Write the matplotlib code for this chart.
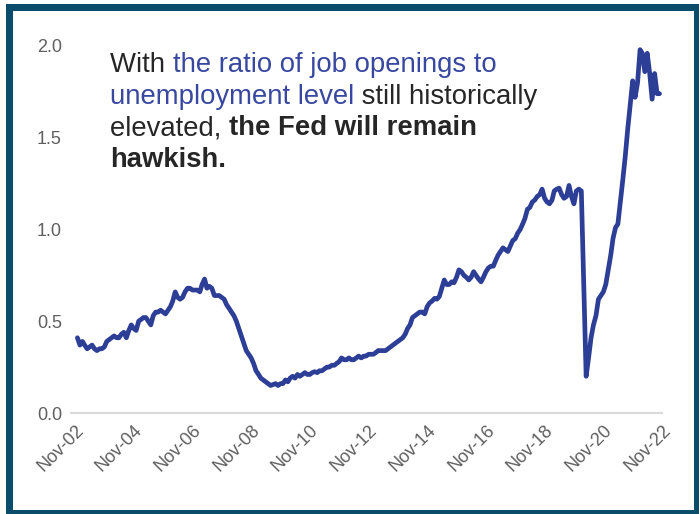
import datetime as dt
import numpy as np
import pandas as pd
import matplotlib
matplotlib.use("Agg")
import matplotlib.pyplot as plt
from matplotlib.patches import Rectangle

plt.rcParams['font.family'] = ['Liberation Sans', 'DejaVu Sans']

# Job openings / unemployment level, monthly, Dec 2002 - Oct 2022
start_month = '2002-12-01'
ratio = [
    0.41,
    0.37, 0.39, 0.37, 0.35, 0.36, 0.37, 0.35, 0.34, 0.35, 0.35, 0.36, 0.39,   # 2003
    0.40, 0.41, 0.42, 0.41, 0.41, 0.43, 0.44, 0.41, 0.45, 0.48, 0.46, 0.45,   # 2004
    0.50, 0.51, 0.52, 0.52, 0.50, 0.48, 0.53, 0.55, 0.55, 0.56, 0.55, 0.54,   # 2005
    0.56, 0.58, 0.61, 0.66, 0.63, 0.62, 0.63, 0.66, 0.68, 0.68, 0.67, 0.67,   # 2006
    0.67, 0.66, 0.70, 0.73, 0.68, 0.69, 0.68, 0.64, 0.64, 0.64, 0.63, 0.62,   # 2007
    0.59, 0.57, 0.55, 0.53, 0.50, 0.46, 0.42, 0.38, 0.34, 0.32, 0.30, 0.27,   # 2008
    0.23, 0.21, 0.19, 0.18, 0.17, 0.16, 0.15, 0.155, 0.16, 0.15, 0.16, 0.16,  # 2009
    0.18, 0.17, 0.19, 0.20, 0.19, 0.21, 0.20, 0.21, 0.22, 0.21, 0.21, 0.22,   # 2010
    0.225, 0.22, 0.23, 0.23, 0.24, 0.25, 0.25, 0.26, 0.26, 0.27, 0.28, 0.30,  # 2011
    0.29, 0.29, 0.30, 0.29, 0.29, 0.30, 0.31, 0.30, 0.31, 0.31, 0.32, 0.32,   # 2012
    0.32, 0.33, 0.34, 0.34, 0.34, 0.34, 0.35, 0.36, 0.37, 0.38, 0.39, 0.40,   # 2013
    0.41, 0.43, 0.46, 0.48, 0.52, 0.53, 0.54, 0.55, 0.55, 0.54, 0.58, 0.60,   # 2014
    0.61, 0.625, 0.62, 0.635, 0.68, 0.725, 0.70, 0.70, 0.715, 0.71, 0.74, 0.78,  # 2015
    0.77, 0.75, 0.74, 0.725, 0.74, 0.77, 0.75, 0.73, 0.715, 0.74, 0.77, 0.79,    # 2016
    0.80, 0.80, 0.83, 0.86, 0.88, 0.90, 0.89, 0.88, 0.91, 0.94, 0.95, 0.98,   # 2017
    1.00, 1.03, 1.06, 1.11, 1.12, 1.15, 1.16, 1.18, 1.19, 1.22, 1.17, 1.15,   # 2018
    1.14, 1.16, 1.21, 1.22, 1.225, 1.19, 1.17, 1.18, 1.24, 1.18, 1.14, 1.21,  # 2019
    1.22, 1.21, 0.72, 0.20, 0.30, 0.41, 0.48, 0.53, 0.62, 0.64, 0.66, 0.70,   # 2020
    0.78, 0.86, 0.95, 1.01, 1.03, 1.15, 1.27, 1.40, 1.55, 1.68, 1.81, 1.72,   # 2021
    1.80, 1.98, 1.96, 1.86, 1.96, 1.85, 1.71, 1.85, 1.74, 1.74,               # 2022
]
dates = pd.date_range(start_month, periods=len(ratio), freq='MS')

tick_years = list(range(2002, 2023, 2))
tick_dates = [dt.datetime(y, 11, 1) for y in tick_years]
tick_labels = ['Nov-%02d' % (y % 100) for y in tick_years]
y_ticks = [0.0, 0.5, 1.0, 1.5, 2.0]

line_color = '#2c3e96'
text_blue = '#3848a0'
text_dark = '#262626'
frame_color = '#0a4d6b'

fig = plt.figure(figsize=(6.99, 5.14), dpi=100)
ax = fig.add_axes([71 / 699, 1 - 413 / 514, (662 - 71) / 699, (413 - 36.8) / 514])

ax.plot(dates, ratio, color=line_color, lw=3.4, solid_joinstyle='round',
        solid_capstyle='round', clip_on=False)

ax.set_xlim(dt.datetime(2002, 9, 12), dt.datetime(2022, 11, 1))
ax.set_ylim(0, 2.05)
ax.set_xticks(tick_dates)
ax.set_xticklabels(tick_labels, rotation=45, ha='right', rotation_mode='anchor')
ax.set_yticks(y_ticks)
ax.set_yticklabels(['%.1f' % v for v in y_ticks])
ax.tick_params(axis='both', length=0, labelsize=13, labelcolor='#5f5f5f')
ax.tick_params(axis='y', pad=6.5)
ax.tick_params(axis='x', pad=6)

for side in ['top', 'right', 'left']:
    ax.spines[side].set_visible(False)
ax.spines['bottom'].set_color('#d9d9d9')
ax.spines['bottom'].set_linewidth(1.5)

# headline, built piece by piece so colours and weights can change mid-line
fs = 19.8
lines = [
    [("With ", text_dark, 'normal'), ("the ratio of job openings to", text_blue, 'normal')],
    [("unemployment level", text_blue, 'normal'), (" still historically", text_dark, 'normal')],
    [("elevated, ", text_dark, 'normal'), ("the Fed will remain", text_dark, 'bold')],
    [("hawkish.", text_dark, 'bold')],
]
x0 = 110 / 699
for i, parts in enumerate(lines):
    y0 = 1 - (72 + i * 31.6) / 514
    prev = None
    for txt, col, wt in parts:
        if prev is None:
            prev = fig.text(x0, y0, txt, color=col, fontweight=wt, fontsize=fs,
                            va='baseline', ha='left')
        else:
            prev = ax.annotate(txt, xy=(1, 0), xycoords=prev, va='bottom', ha='left',
                               color=col, fontweight=wt, fontsize=fs,
                               annotation_clip=False)

# dark frame around the whole panel
fig.patches.append(Rectangle((8.5 / 699, 1.5 / 514), 688 / 699, 506 / 514,
                             transform=fig.transFigure, fill=False,
                             edgecolor=frame_color, linewidth=7 * 0.72))

fig.savefig('out.png', dpi=100)
